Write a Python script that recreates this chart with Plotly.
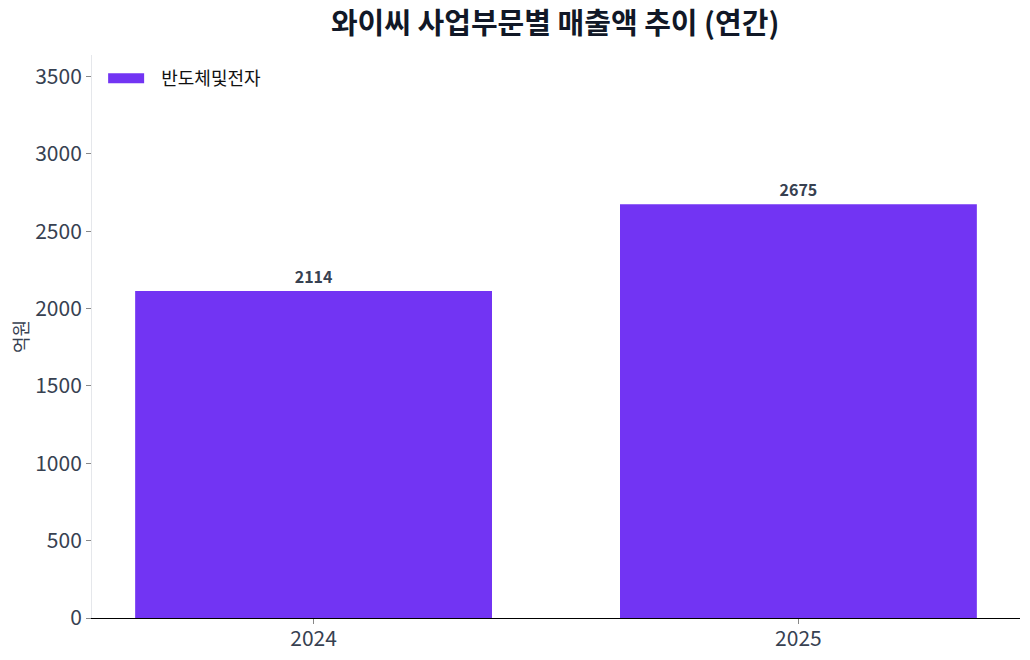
import plotly.graph_objects as go

years = ["2024", "2025"]
values = [2114, 2675]
series_name = "반도체및전자"
title = "와이씨 사업부문별 매출액 추이 (연간)"
y_title = "억원"

FONT = "Noto Sans CJK KR"
BAR_COLOR = "#7234F3"

fig = go.Figure()
fig.add_trace(go.Bar(
    x=years, y=values, name=series_name,
    marker=dict(color=BAR_COLOR, line=dict(width=0)),
    width=0.736, showlegend=False,
    text=[str(v) for v in values], textposition="outside",
    textfont=dict(family=FONT, size=16, color="#374151", weight="bold"),
    cliponaxis=False,
))
# legend entry drawn as a wide rectangle
fig.add_trace(go.Scatter(
    x=[None], y=[None], mode="lines", name="\u00a0\u00a0\u00a0" + series_name,
    line=dict(color=BAR_COLOR, width=12), showlegend=True,
))

fig.update_layout(
    width=1030, height=660,
    margin=dict(l=92, r=10, t=55, b=42),
    paper_bgcolor="white", plot_bgcolor="white",
    font=dict(family=FONT, color="#374151"),
    title=dict(text=f"<b>{title}</b>", x=0.539, xanchor="center", y=0.964, yanchor="middle",
               font=dict(family=FONT, size=29, color="#111827")),
    showlegend=True,
    legend=dict(x=0.012, y=0.991, xanchor="left", yanchor="top",
                font=dict(family=FONT, size=18, color="#111111"),
                bgcolor="rgba(0,0,0,0)", itemwidth=36),
)
fig.update_xaxes(
    type="category", range=[-0.457, 1.457], automargin=False,
    showline=True, linecolor="black", linewidth=1.2,
    ticks="outside", ticklen=5, tickcolor="#888888",
    tickfont=dict(family=FONT, size=21, color="#374151"),
    ticklabelstandoff=-3,
    showgrid=False, zeroline=False,
)
fig.update_yaxes(
    range=[0, 3640], tickvals=[0, 500, 1000, 1500, 2000, 2500, 3000, 3500],
    automargin=False,
    showline=True, linecolor="#e5e7eb", linewidth=1,
    ticks="outside", ticklen=5, tickcolor="#888888",
    tickfont=dict(family=FONT, size=21, color="#374151"),
    showgrid=False, zeroline=False,
    title=dict(text=y_title, font=dict(family=FONT, size=18, color="#374151"), standoff=1),
)

fig.write_html("out.html", config={"displayModeBar": False},
               post_script="document.body.style.margin='0';")
